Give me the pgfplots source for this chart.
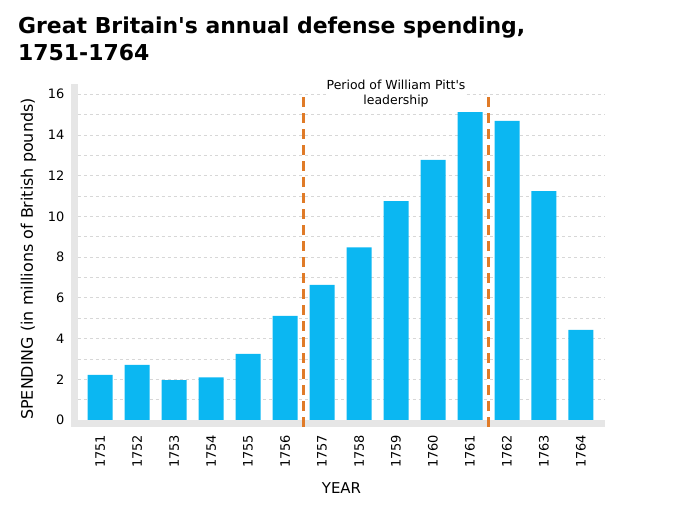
\documentclass[border=0pt]{standalone}
\usepackage{fontspec}
\setmainfont{DejaVu Sans}
\newfontfamily\dejavu{DejaVu Sans}
\usepackage{pgfplots}
\pgfplotsset{compat=1.18}
\definecolor{barblue}{RGB}{11,183,242}
\definecolor{pittorange}{RGB}{224,123,40}
\definecolor{axgray}{RGB}{230,230,230}
\definecolor{gridgray}{RGB}{215,215,215}
\begin{document}
\begin{tikzpicture}[x=1bp,y=1bp]
\path[use as bounding box] (-78,-86) rectangle (597,420);
\node[anchor=north west, inner sep=0pt, align=left, font=\dejavu\bfseries\fontsize{22}{27}\selectfont] at (-60,403)
  {Great Britain's annual defense spending,\\1751-1764};
\begin{axis}[
  at={(0,0)}, anchor=south west,
  scale only axis, width=527bp, height=330bp,
  xmin=1750.4, xmax=1764.65, ymin=0, ymax=16.2,
  ybar, bar width=25bp,
  axis line style={draw=none}, tick style={draw=none},
  ytick={0,2,...,16}, minor ytick={1,3,...,15},
  ymajorgrids, yminorgrids,
  major grid style={dashed, gridgray, line width=0.6bp},
  minor grid style={dashed, gridgray, line width=0.6bp},
  xtick={1751,...,1764},
  /pgf/number format/1000 sep={},
  /pgf/number format/assume math mode=true,
  tick label style={font=\fontsize{13}{16}\selectfont},
  xticklabel style={rotate=90, anchor=east, xshift=-7bp},
  yticklabel style={xshift=-10bp},
  xlabel={YEAR}, ylabel={SPENDING (in millions of British pounds)},
  xlabel style={font=\fontsize{15}{18}\selectfont, yshift=-8bp},
  ylabel style={font=\fontsize{16}{18}\selectfont, yshift=5bp, xshift=-4bp},
  clip=false,
]
\addplot[fill=barblue, draw=none] coordinates {
 (1751,2.21) (1752,2.70) (1753,1.96) (1754,2.09) (1755,3.24) (1756,5.11)
 (1757,6.63) (1758,8.48) (1759,10.74) (1760,12.77) (1761,15.11) (1762,14.68)
 (1763,11.24) (1764,4.42)};
\fill[axgray] ([xshift=-7bp,yshift=-7bp]rel axis cs:0,0) rectangle (rel axis cs:1,0);
\fill[axgray] ([xshift=-7bp,yshift=-7bp]rel axis cs:0,0) rectangle ([yshift=6bp]rel axis cs:0,1);
\draw[pittorange, line width=3bp, dash pattern=on 10bp off 6bp] (axis cs:1756.5,-0.35) -- (axis cs:1756.5,16.1);
\draw[pittorange, line width=3bp, dash pattern=on 10bp off 6bp] (axis cs:1761.5,-0.35) -- (axis cs:1761.5,16.1);
\node[font=\dejavu\fontsize{12.5}{15}\selectfont, align=center, fill=white, inner sep=1bp] at (axis cs:1759,16.02) {Period of William Pitt's\\leadership};
\end{axis}
\end{tikzpicture}
\end{document}
